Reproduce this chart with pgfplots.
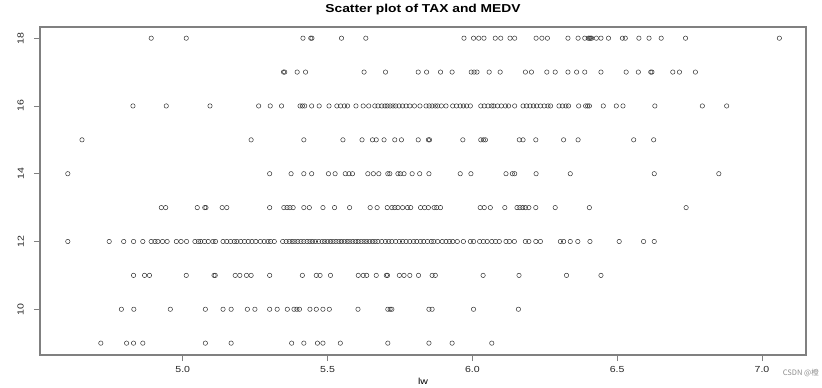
\documentclass[border=0pt]{standalone}
\usepackage{pgfplots}
\pgfplotsset{compat=1.18}
\usepackage{fontspec}
\setmainfont[FakeStretch=1.2]{Liberation Sans}
\newfontfamily\cjk{Noto Sans CJK SC}
\definecolor{boxgray}{RGB}{128,128,128}
\begin{document}
\begin{tikzpicture}[x=1pt,y=1pt]
\useasboundingbox (0,0) rectangle (822,388);
\begin{axis}[
  at={(40pt,33pt)}, anchor=south west,
  scale only axis, width=766pt, height=328pt,
  xmin=4.507, xmax=7.152, ymin=8.65, ymax=18.33,
  axis line style={boxgray, line width=1.2pt},
  xtick={5.0,5.5,6.0,6.5,7.0},
  ytick={10,12,14,16,18},
  xticklabel style={/pgf/number format/fixed, /pgf/number format/fixed zerofill, /pgf/number format/precision=1, yshift=-1.5pt},
  /pgf/number format/assume math mode=true,
  tick align=outside, tick pos=left,
  major tick length=6pt,
  every tick/.style={boxgray, line width=0.8pt},
  tick label style={font=\fontsize{8.8}{10}\selectfont, text=black!85},
  yticklabel style={rotate=90, anchor=south, inner ysep=10pt},
]
\addplot[only marks, mark=o, mark size=2.2pt, mark options={draw=black!80, line width=0.5pt}] table[row sep=\\] {
x y\\
4.891 18\\ 5.012 18\\ 5.415 18\\ 5.442 18\\ 5.446 18\\ 5.548 18\\ 5.632 18\\ 5.971 18\\ 6.004 18\\ 6.022 18\\ 6.040 18\\ 6.079 18\\ 6.098 18\\ 6.130 18\\ 6.146 18\\ 6.220 18\\ 6.240 18\\ 6.259 18\\ 6.330 18\\ 6.365 18\\ 6.388 18\\ 6.400 18\\ 6.404 18\\ 6.408 18\\ 6.412 18\\ 6.428 18\\ 6.444 18\\ 6.470 18\\ 6.518 18\\ 6.528 18\\ 6.575 18\\ 6.610 18\\ 6.652 18\\ 6.736 18\\ 7.060 18\\
5.348 17\\ 5.352 17\\ 5.395 17\\ 5.424 17\\ 5.626 17\\ 5.700 17\\ 5.813 17\\ 5.842 17\\ 5.890 17\\ 5.930 17\\ 5.996 17\\ 6.006 17\\ 6.016 17\\ 6.058 17\\ 6.096 17\\ 6.183 17\\ 6.204 17\\ 6.257 17\\ 6.286 17\\ 6.330 17\\ 6.360 17\\ 6.388 17\\ 6.444 17\\ 6.531 17\\ 6.573 17\\ 6.616 17\\ 6.620 17\\ 6.692 17\\ 6.715 17\\ 6.770 17\\
4.828 16\\ 4.943 16\\ 5.094 16\\ 5.262 16\\ 5.302 16\\ 5.341 16\\ 5.405 16\\ 5.413 16\\ 5.421 16\\ 5.445 16\\ 5.471 16\\ 5.505 16\\ 5.532 16\\ 5.545 16\\ 5.558 16\\ 5.569 16\\ 5.598 16\\ 5.623 16\\ 5.642 16\\ 5.663 16\\ 5.674 16\\ 5.687 16\\ 5.698 16\\ 5.706 16\\ 5.716 16\\ 5.726 16\\ 5.735 16\\ 5.747 16\\ 5.759 16\\ 5.771 16\\ 5.784 16\\ 5.800 16\\ 5.819 16\\ 5.840 16\\ 5.851 16\\ 5.861 16\\ 5.872 16\\ 5.880 16\\ 5.893 16\\ 5.909 16\\ 5.932 16\\ 5.945 16\\ 5.958 16\\ 5.969 16\\ 5.980 16\\ 5.993 16\\ 6.029 16\\ 6.041 16\\ 6.054 16\\ 6.067 16\\ 6.074 16\\ 6.087 16\\ 6.100 16\\ 6.114 16\\ 6.125 16\\ 6.146 16\\ 6.175 16\\ 6.187 16\\ 6.199 16\\ 6.211 16\\ 6.222 16\\ 6.235 16\\ 6.248 16\\ 6.261 16\\ 6.270 16\\ 6.299 16\\ 6.311 16\\ 6.323 16\\ 6.332 16\\ 6.367 16\\ 6.391 16\\ 6.398 16\\ 6.404 16\\ 6.452 16\\ 6.497 16\\ 6.520 16\\ 6.630 16\\ 6.794 16\\ 6.878 16\\
4.652 15\\ 5.236 15\\ 5.418 15\\ 5.553 15\\ 5.619 15\\ 5.655 15\\ 5.668 15\\ 5.695 15\\ 5.732 15\\ 5.755 15\\ 5.813 15\\ 5.848 15\\ 5.852 15\\ 5.967 15\\ 6.029 15\\ 6.038 15\\ 6.045 15\\ 6.162 15\\ 6.175 15\\ 6.219 15\\ 6.315 15\\ 6.365 15\\ 6.557 15\\ 6.626 15\\
4.603 14\\ 5.300 14\\ 5.374 14\\ 5.418 14\\ 5.445 14\\ 5.503 14\\ 5.526 14\\ 5.561 14\\ 5.574 14\\ 5.586 14\\ 5.639 14\\ 5.658 14\\ 5.677 14\\ 5.708 14\\ 5.715 14\\ 5.743 14\\ 5.751 14\\ 5.764 14\\ 5.792 14\\ 5.818 14\\ 5.850 14\\ 5.958 14\\ 5.995 14\\ 6.116 14\\ 6.138 14\\ 6.146 14\\ 6.220 14\\ 6.338 14\\ 6.628 14\\ 6.851 14\\
4.926 13\\ 4.941 13\\ 5.050 13\\ 5.076 13\\ 5.080 13\\ 5.136 13\\ 5.152 13\\ 5.300 13\\ 5.349 13\\ 5.360 13\\ 5.370 13\\ 5.381 13\\ 5.418 13\\ 5.437 13\\ 5.484 13\\ 5.524 13\\ 5.576 13\\ 5.647 13\\ 5.671 13\\ 5.706 13\\ 5.722 13\\ 5.732 13\\ 5.743 13\\ 5.759 13\\ 5.776 13\\ 5.787 13\\ 5.821 13\\ 5.835 13\\ 5.848 13\\ 5.868 13\\ 5.877 13\\ 5.890 13\\ 6.027 13\\ 6.041 13\\ 6.062 13\\ 6.112 13\\ 6.154 13\\ 6.164 13\\ 6.174 13\\ 6.183 13\\ 6.195 13\\ 6.219 13\\ 6.286 13\\ 6.404 13\\ 6.738 13\\
4.603 12\\ 4.746 12\\ 4.796 12\\ 4.830 12\\ 4.862 12\\ 4.891 12\\ 4.904 12\\ 4.914 12\\ 4.930 12\\ 4.946 12\\ 4.978 12\\ 4.994 12\\ 5.013 12\\ 5.042 12\\ 5.054 12\\ 5.062 12\\ 5.075 12\\ 5.088 12\\ 5.104 12\\ 5.113 12\\ 5.139 12\\ 5.152 12\\ 5.165 12\\ 5.178 12\\ 5.187 12\\ 5.200 12\\ 5.213 12\\ 5.226 12\\ 5.239 12\\ 5.252 12\\ 5.268 12\\ 5.281 12\\ 5.294 12\\ 5.303 12\\ 5.316 12\\ 5.345 12\\ 5.357 12\\ 5.368 12\\ 5.378 12\\ 5.387 12\\ 5.397 12\\ 5.408 12\\ 5.418 12\\ 5.429 12\\ 5.439 12\\ 5.448 12\\ 5.458 12\\ 5.469 12\\ 5.481 12\\ 5.490 12\\ 5.500 12\\ 5.510 12\\ 5.519 12\\ 5.529 12\\ 5.539 12\\ 5.548 12\\ 5.558 12\\ 5.568 12\\ 5.577 12\\ 5.587 12\\ 5.597 12\\ 5.606 12\\ 5.616 12\\ 5.626 12\\ 5.635 12\\ 5.645 12\\ 5.655 12\\ 5.664 12\\ 5.674 12\\ 5.687 12\\ 5.700 12\\ 5.711 12\\ 5.722 12\\ 5.735 12\\ 5.748 12\\ 5.759 12\\ 5.771 12\\ 5.784 12\\ 5.797 12\\ 5.808 12\\ 5.821 12\\ 5.832 12\\ 5.845 12\\ 5.858 12\\ 5.867 12\\ 5.880 12\\ 5.896 12\\ 5.909 12\\ 5.921 12\\ 5.932 12\\ 5.948 12\\ 5.969 12\\ 5.993 12\\ 6.004 12\\ 6.025 12\\ 6.038 12\\ 6.051 12\\ 6.067 12\\ 6.080 12\\ 6.093 12\\ 6.116 12\\ 6.128 12\\ 6.145 12\\ 6.183 12\\ 6.195 12\\ 6.219 12\\ 6.235 12\\ 6.304 12\\ 6.315 12\\ 6.338 12\\ 6.364 12\\ 6.406 12\\ 6.507 12\\ 6.591 12\\ 6.628 12\\
4.830 11\\ 4.868 11\\ 4.885 11\\ 5.012 11\\ 5.108 11\\ 5.112 11\\ 5.181 11\\ 5.197 11\\ 5.220 11\\ 5.236 11\\ 5.300 11\\ 5.413 11\\ 5.461 11\\ 5.474 11\\ 5.510 11\\ 5.606 11\\ 5.623 11\\ 5.635 11\\ 5.668 11\\ 5.703 11\\ 5.707 11\\ 5.748 11\\ 5.764 11\\ 5.784 11\\ 5.814 11\\ 5.861 11\\ 5.872 11\\ 6.037 11\\ 6.161 11\\ 6.325 11\\ 6.444 11\\
4.788 10\\ 4.831 10\\ 4.957 10\\ 5.078 10\\ 5.139 10\\ 5.167 10\\ 5.223 10\\ 5.249 10\\ 5.300 10\\ 5.326 10\\ 5.361 10\\ 5.384 10\\ 5.394 10\\ 5.403 10\\ 5.439 10\\ 5.461 10\\ 5.484 10\\ 5.506 10\\ 5.605 10\\ 5.708 10\\ 5.716 10\\ 5.722 10\\ 5.850 10\\ 5.861 10\\ 6.004 10\\ 6.159 10\\
4.717 9\\ 4.806 9\\ 4.830 9\\ 4.862 9\\ 5.078 9\\ 5.167 9\\ 5.376 9\\ 5.418 9\\ 5.465 9\\ 5.484 9\\ 5.544 9\\ 5.708 9\\ 5.850 9\\ 5.930 9\\ 6.067 9\\
};
\end{axis}
\node[anchor=center, font=\bfseries\fontsize{11.5}{12}\selectfont] at (423,378) {Scatter plot of TAX and MEDV};
\node[anchor=base, inner sep=0pt, font=\fontsize{8.8}{10}\selectfont] at (423,3) {lw};
\node[anchor=east, inner sep=1pt, text=black!45, font=\cjk\fontsize{7.5}{8}\selectfont] at (820,15) {CSDN @橙};
\end{tikzpicture}
\end{document}
